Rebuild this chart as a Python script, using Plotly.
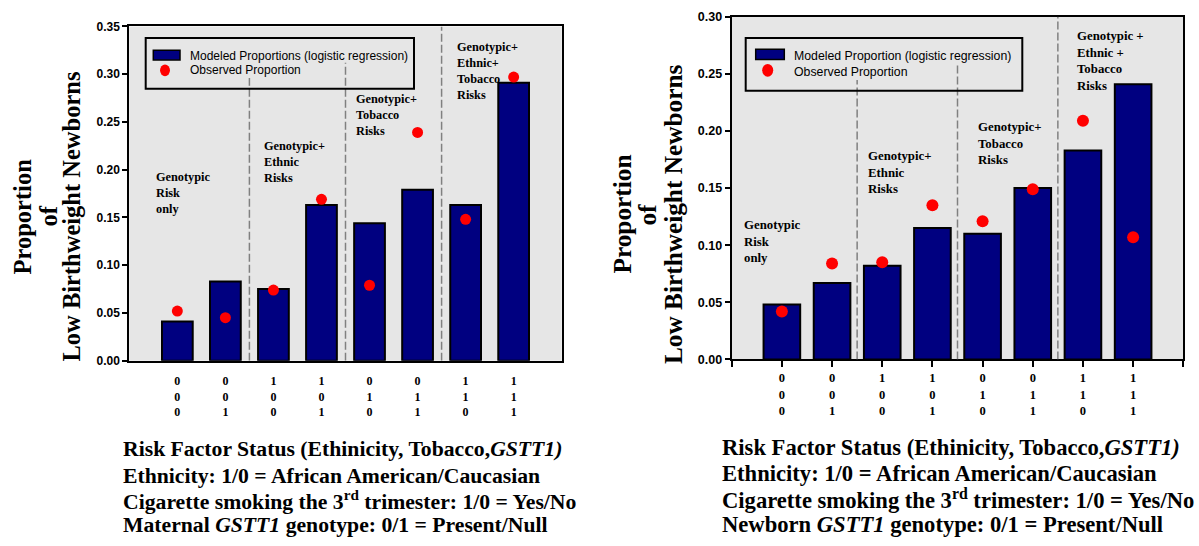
import plotly.graph_objects as go

# ---------------- data ----------------
ethnicity = [0, 0, 1, 1, 0, 0, 1, 1]
tobacco = [0, 0, 0, 0, 1, 1, 1, 1]
gstt1 = [0, 1, 0, 1, 0, 1, 0, 1]
positions = [0, 1, 2, 3, 4, 5, 6, 7]

maternal_modeled = [0.041, 0.083, 0.075, 0.163, 0.144, 0.179, 0.163, 0.291]
maternal_observed = [0.052, 0.045, 0.074, 0.169, 0.079, 0.239, 0.148, 0.297]

newborn_modeled = [0.048, 0.067, 0.082, 0.115, 0.110, 0.150, 0.183, 0.241]
newborn_observed = [0.042, 0.084, 0.085, 0.135, 0.121, 0.149, 0.209, 0.107]

group_labels = [
    "Genotypic<br>Risk<br>only",
    "Genotypic+<br>Ethnic<br>Risks",
    "Genotypic+<br>Tobacco<br>Risks",
    "Genotypic+<br>Ethnic+<br>Tobacco<br>Risks",
]
group_labels_right = [
    "Genotypic<br>Risk<br>only",
    "Genotypic+<br>Ethnic<br>Risks",
    "Genotypic+<br>Tobacco<br>Risks",
    "Genotypic +<br>Ethnic +<br>Tobacco<br>Risks",
]
divider_positions = [1.5, 3.5, 5.5]
divider_tops_left = [0.296, 0.312, 0.35]
divider_tops_right = [0.2446, 0.2588, 0.30]

tick_labels = [f"{e}<br>{t}<br>{g}" for e, t, g in zip(ethnicity, tobacco, gstt1)]

left_footer = [
    "Risk Factor Status (Ethinicity, Tobacco,<i>GSTT1)</i>",
    "Ethnicity: 1/0 = African American/Caucasian",
    "Cigarette smoking the 3<sup>rd</sup> trimester: 1/0 = Yes/No",
    "Maternal <i>GSTT1</i> genotype: 0/1 = Present/Null",
]
right_footer = [
    "Risk Factor Status (Ethinicity, Tobacco,<i>GSTT1)</i>",
    "Ethnicity: 1/0 = African American/Caucasian",
    "Cigarette smoking the 3<sup>rd</sup> trimester: 1/0 = Yes/No",
    "Newborn <i>GSTT1</i> genotype: 0/1 = Present/Null",
]

# ---------------- layout helpers ----------------
W, H = 1199, 546
def px(v):
    return v / W
def py(v):
    return 1 - v / H

SERIF = "Liberation Serif, Times New Roman, serif"
SANS = "Liberation Sans, Arial, sans-serif"
NAVY = "#000080"
RED = "#ff0000"

fig = go.Figure()

fig.add_trace(go.Bar(x=positions, y=maternal_modeled, xaxis="x", yaxis="y", width=0.64,
                     marker=dict(color=NAVY, line=dict(color="black", width=2)), showlegend=False))
fig.add_trace(go.Scatter(x=positions, y=maternal_observed, xaxis="x", yaxis="y", mode="markers",
                         marker=dict(color=RED, size=11, line=dict(width=0)), showlegend=False))
fig.add_trace(go.Bar(x=positions, y=newborn_modeled, xaxis="x2", yaxis="y2", width=0.73,
                     marker=dict(color=NAVY, line=dict(color="black", width=2)), showlegend=False))
fig.add_trace(go.Scatter(x=positions, y=newborn_observed, xaxis="x2", yaxis="y2", mode="markers",
                         marker=dict(color=RED, size=12, line=dict(width=0)), showlegend=False))

common_x = dict(range=[-1, 8], showline=True, mirror=True, linecolor="black", linewidth=2,
                showgrid=False, zeroline=False, fixedrange=True)
common_y = dict(showline=True, mirror=True, linecolor="black", linewidth=2, showgrid=False,
                zeroline=False, ticks="outside", ticklen=5, tickwidth=2, tickcolor="black",
                tickformat=".2f", dtick=0.05, fixedrange=True)

fig.update_layout(
    width=W, height=H, margin=dict(l=0, r=0, t=0, b=0),
    paper_bgcolor="white", plot_bgcolor="#e6e6e6",
    xaxis=dict(common_x, domain=[px(129.3), px(561.7)], anchor="y", ticks="",
               tickvals=positions, ticktext=tick_labels, ticklabelstandoff=8,
               tickfont=dict(family=SERIF, size=12, weight="bold", color="black")),
    yaxis=dict(common_y, domain=[py(363), py(20)], anchor="x", range=[0, 0.35],
               tickfont=dict(family=SANS, size=12, weight="bold", color="black")),
    xaxis2=dict(common_x, domain=[px(731.7), px(1183.3)], anchor="y2", ticks="outside",
                ticklen=6, tickwidth=2, tickcolor="black",
                tickvals=positions, ticktext=tick_labels,
                minor=dict(ticks="outside", ticklen=6, tickwidth=2, tickcolor="black",
                           tick0=-1, dtick=1),
                tickfont=dict(family=SERIF, size=12.5, weight="bold", color="black")),
    yaxis2=dict(common_y, domain=[py(361.7), py(10)], anchor="x2", range=[0, 0.30],
                tickfont=dict(family=SANS, size=12.5, weight="bold", color="black")),
)

shapes = []
for xr, yr, tops in (("x", "y", divider_tops_left), ("x2", "y2", divider_tops_right)):
    for xpos, top in zip(divider_positions, tops):
        shapes.append(dict(type="line", xref=xr, yref=yr, x0=xpos, x1=xpos, y0=0, y1=top,
                           line=dict(color="#808080", width=1.5, dash="8px,3px")))

# legend boxes (drawn manually)
for (bx0, by0, bx1, by1), (sx0, sy0, sx1, sy1), (dcx, dcy, dw, dh) in (
    ((145.7, 31.7, 414, 84), (153.3, 44.3, 180, 54.3), (165, 65, 10, 12)),
    ((745.7, 31.7, 1022.3, 86), (755.7, 43.3, 784.3, 54), (767.7, 65, 11, 13)),
):
    shapes.append(dict(type="rect", xref="paper", yref="paper", x0=px(bx0), x1=px(bx1),
                       y0=py(by1), y1=py(by0), line=dict(color="black", width=2)))
    shapes.append(dict(type="rect", xref="paper", yref="paper", x0=px(sx0), x1=px(sx1),
                       y0=py(sy1), y1=py(sy0), fillcolor=NAVY, line=dict(color="black", width=1.5)))
    shapes.append(dict(type="circle", xref="paper", yref="paper", x0=px(dcx - dw / 2), x1=px(dcx + dw / 2),
                       y0=py(dcy + dh / 2), y1=py(dcy - dh / 2), fillcolor=RED, line=dict(width=0)))
fig.update_layout(shapes=shapes)

ann = []
def add_text(text, x, y, size, family=SERIF, weight="bold", xanchor="left", yanchor="middle", angle=0):
    ann.append(dict(text=text, x=px(x), y=py(y), xref="paper", yref="paper", showarrow=False,
                    xanchor=xanchor, yanchor=yanchor, textangle=angle, align="left",
                    font=dict(family=family, size=size, weight=weight, color="black")))

# legend texts
add_text("Modeled Proportions (logistic regression)", 188.3, 50, 12, family=SANS, weight="normal")
add_text("Observed Proportion", 188.3, 65, 12, family=SANS, weight="normal")
add_text("Modeled Proportion (logistic regression)", 792.3, 50, 12.3, family=SANS, weight="normal")
add_text("Observed Proportion", 792.3, 67, 12.3, family=SANS, weight="normal")

# group annotations (left x, first line centre y)
for txt, (x, y) in zip(group_labels, [(154, 173), (262, 141.7), (354, 93), (455, 40)]):
    add_text(txt, x, y - 8, 12.3, yanchor="top")
for txt, (x, y) in zip(group_labels_right, [(742.5, 223), (866, 152), (976, 122), (1075, 29)]):
    add_text(txt, x, y - 8.5, 12.8, yanchor="top")

# y titles
for txt, cx in zip(["Proportion", "of", "Low Birthweight Newborns"], [22, 48, 71]):
    add_text(txt, cx, 215, 24.5, xanchor="center", angle=-90)
for txt, cx in zip(["Proportion", "of", "Low Birthweight Newborns"], [622, 647, 672.5]):
    add_text(txt, cx, 213, 25.3, xanchor="center", angle=-90)

# footers
for txt, y in zip(left_footer, [454, 481, 506, 532]):
    add_text(txt, 121, y, 21.7)
for txt, y in zip(right_footer, [452.5, 479, 504.5, 531.5]):
    add_text(txt, 720, y, 22.6)

fig.update_layout(annotations=ann)

fig.write_html("out.html", config={"displayModeBar": False},
               post_script="document.body.style.margin='0';")
